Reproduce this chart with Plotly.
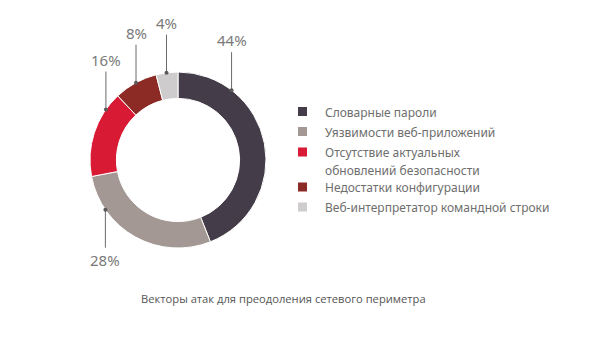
import math
import plotly.graph_objects as go

# ---- data ----
categories = [
    "Словарные пароли",
    "Уязвимости веб-приложений",
    "Отсутствие актуальных\nобновлений безопасности",
    "Недостатки конфигурации",
    "Веб-интерпретатор командной строки",
]
values = [44, 28, 16, 8, 4]
pct_labels = ["44%", "28%", "16%", "8%", "4%"]
title_text = "Векторы атак для преодоления сетевого периметра"

# ---- style ----
colors = ["#453c4a", "#a39893", "#d91a34", "#8c2b26", "#cfcccd"]
W, H = 600, 342
CX, CY, R = 178, 160, 88          # donut centre / radius in pixels
label_angles = [52.5, -145.6, 145.0, 118.5, 97.5]   # where leader lines touch the ring
label_dir = [-1, 1, -1, -1, -1]   # -1 label above, +1 below
LINE_LEN = 38
LABEL_GAP = 50


def px(x):
    return x / W


def py(y):
    return 1 - y / H


fig = go.Figure()
fig.add_trace(go.Pie(
    labels=[c.replace("\n", " ") for c in categories], values=values, hole=0.70, sort=False,
    direction="clockwise", rotation=0,
    marker=dict(colors=colors, line=dict(color="white", width=1)),
    textinfo="none", hoverinfo="label+percent", showlegend=False,
    domain=dict(x=[px(CX - R), px(CX + R)], y=[py(CY + R), py(CY - R)]),
))

shapes = []
annotations = []
for lab, ang, d in zip(pct_labels, label_angles, label_dir):
    a = math.radians(ang)
    dx = CX + R * math.cos(a)
    dy = CY - R * math.sin(a)
    shapes.append(dict(type="line", xref="paper", yref="paper",
                       x0=px(dx), y0=py(dy), x1=px(dx), y1=py(dy + d * LINE_LEN),
                       line=dict(color="#6a6a6a", width=1)))
    shapes.append(dict(type="circle", xref="paper", yref="paper",
                       x0=px(dx - 2), x1=px(dx + 2), y0=py(dy - 2), y1=py(dy + 2),
                       fillcolor="#5a5a5a", line=dict(width=0)))
    annotations.append(dict(text=lab, xref="paper", yref="paper",
                            x=px(dx), y=py(dy + d * LABEL_GAP),
                            xanchor="center", yanchor="middle", showarrow=False,
                            font=dict(family="Noto Sans", size=15, color="#7a7a7a")))

# manual legend
leg_x, text_x = 298, 323
leg_y = [111.5, 131.5, 152, 187, 207]
LINE_H = 18
for cat, col, y in zip(categories, colors, leg_y):
    shapes.append(dict(type="rect", xref="paper", yref="paper",
                       x0=px(leg_x), x1=px(leg_x + 9), y0=py(y + 4.5), y1=py(y - 4.5),
                       fillcolor=col, line=dict(width=0)))
    for i, line in enumerate(cat.split("\n")):
        annotations.append(dict(text=line, xref="paper", yref="paper",
                                x=px(text_x), y=py(y + 0.8 + i * LINE_H),
                                xanchor="left", yanchor="middle",
                                align="left", showarrow=False,
                                font=dict(family="Noto Sans", size=12, color="#6e6e6e")))

annotations.append(dict(text=title_text, xref="paper", yref="paper",
                        x=px(283), y=py(298), xanchor="center", yanchor="middle",
                        showarrow=False,
                        font=dict(family="Open Sans", size=11.2, color="#555555")))

fig.update_layout(
    width=W, height=H, margin=dict(l=0, r=0, t=0, b=0),
    paper_bgcolor="white", plot_bgcolor="white",
    shapes=shapes, annotations=annotations,
)
fig.write_html("out.html")
